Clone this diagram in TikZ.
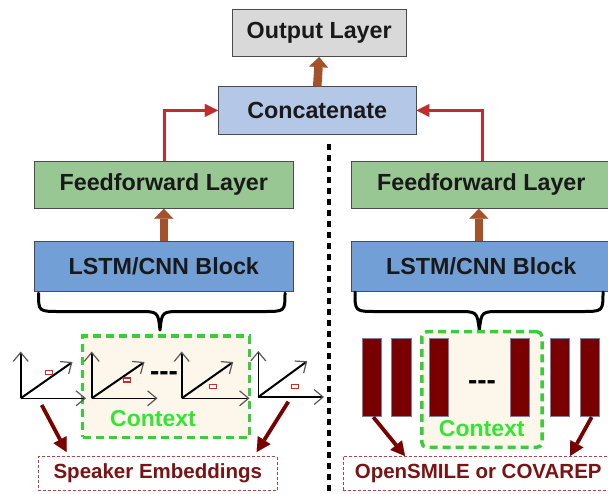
\documentclass[tikz,border=0pt]{standalone}
\usepackage{fontspec}
\setmainfont{Liberation Sans}
\usetikzlibrary{arrows.meta}
\definecolor{outgray}{HTML}{D9D9D9}
\definecolor{concblue}{HTML}{B4C7E7}
\definecolor{ffgreen}{HTML}{98C793}
\definecolor{lstmblue}{HTML}{729FD6}
\definecolor{arrbrown}{HTML}{A5522A}
\definecolor{redline}{HTML}{BE2E2E}
\definecolor{barred}{HTML}{7A0000}
\definecolor{barborder}{HTML}{7F7F9F}
\definecolor{ctxgreen}{HTML}{3CCB3C}
\definecolor{ctxtext}{HTML}{33E633}
\definecolor{cream}{HTML}{FCF7EA}
\definecolor{boxred}{HTML}{A84848}
\definecolor{labred}{HTML}{7A1414}
\definecolor{rectred}{HTML}{C03030}
\tikzset{
  layerbox/.style={draw=black!70, line width=0.8pt, inner sep=0pt,
    minimum width=259pt, minimum height=47.3pt,
    font=\bfseries\fontsize{23.3}{28}\selectfont, text=black!90},
  blockarrow/.style={draw=arrbrown, line width=8.5pt,
    -{Triangle[length=10pt,width=19pt,line width=0.01pt]}},
  redarrow/.style={draw=redline, line width=3pt,
    -{Triangle[length=13pt,width=13pt,line width=0.01pt]}},
  darkarrow/.style={draw=barred, line width=3.8pt,
    -{Triangle[length=14pt,width=15pt,line width=0.01pt]}},
  bracestyle/.style={draw=black, line width=3pt, line cap=round, line join=round},
  ctxbox/.style={draw=ctxgreen, fill=cream, line width=3.5pt, dash pattern=on 8pt off 5pt, inner sep=0pt},
  ctxlabel/.style={text=ctxtext, font=\bfseries\fontsize{23}{28}\selectfont, inner sep=0pt, anchor=base},
  featbar/.style={draw=barborder, fill=barred, line width=0.8pt, minimum width=19.5pt, minimum height=78.4pt, inner sep=0pt},
  srcbox/.style={draw=boxred, line width=1.2pt, dash pattern=on 3pt off 2pt, inner sep=0pt,
    minimum height=34pt, text=labred, font=\bfseries\fontsize{20.5}{24}\selectfont},
  axtip/.tip={Straight Barb[length=9pt,width=15pt,line width=1.2pt,color=black!65]},
  axline/.style={draw=black, line width=1.6pt, -axtip},
  diagline/.style={draw=black, line width=2pt, -axtip},
  minirect/.style={draw=rectred, line width=1.2pt, fill=white},
  dots/.style={font=\bfseries\fontsize{28}{30}\selectfont, inner sep=0pt, anchor=base},
  sep/.style={draw=black, line width=4pt, dash pattern=on 6pt off 5pt}
}
\begin{document}
\begin{tikzpicture}[x=1pt,y=-1pt]
\useasboundingbox (0,0) rectangle (608,493);
\fill[white] (0,0) rectangle (608,493);

% separator
\draw[sep] (329,144) -- (329,493);

% layer boxes
\node[layerbox, fill=outgray, minimum width=173.7pt, minimum height=47.4pt] (out) at (319.2,33) {Output Layer};
\node[layerbox, fill=concblue, minimum width=197.7pt, minimum height=47.3pt] (conc) at (317.2,110.4) {Concatenate};
\node[layerbox, fill=ffgreen] (ffL) at (163.8,184.7) {Feedforward Layer};
\node[layerbox, fill=ffgreen] (ffR) at (481.3,184.7) {Feedforward Layer};
\node[layerbox, fill=lstmblue, minimum height=50.7pt] (lstmL) at (163.8,266.3) {LSTM/CNN Block};
\node[layerbox, fill=lstmblue, minimum height=50.7pt] (lstmR) at (481.3,266.3) {LSTM/CNN Block};

% arrows between layers
\draw[blockarrow] (conc.north) -- (out.south);
\draw[blockarrow] (lstmL.north) -- (ffL.south);
\draw[blockarrow] ([xshift=-2.5pt]lstmR.north) -- ([xshift=-2.5pt]ffR.south);
\draw[redarrow] ([xshift=0.2pt]ffL.north) |- (conc.west);
\draw[redarrow] ([xshift=0.7pt]ffR.north) |- (conc.east);

% braces
\draw[bracestyle] (38.5,293) .. controls (38.5,311.5) .. (60,311.5) -- (138,311.5)
  .. controls (158,311.5) .. (160,330) .. controls (162,311.5) .. (182,311.5)
  -- (263,311.5) .. controls (285,311.5) .. (285,293);
\draw[bracestyle] (355,292) .. controls (355,311.5) .. (377,311.5) -- (457,311.5)
  .. controls (477,311.5) .. (479.3,330) .. controls (481.5,311.5) .. (501,311.5)
  -- (581,311.5) .. controls (603,311.5) .. (603,292);

% left context
\node[ctxbox, minimum width=166.6pt, minimum height=101.3pt] (ctxL) at (166,386.7) {};
\node[ctxlabel] (ctxLlab) at (153,426.5) {Context};

% axis icons
\draw[axline] (20.7,398.3) -- (20.7,351.5);
\draw[axline] (20.7,398.3) -- (86,398.3);
\draw[diagline] (20.7,398.3) -- (72.5,362);
\draw[minirect] (45.8,370.3) rectangle (52.8,374.3);

\draw[axline] (91.7,398.3) -- (91.7,351.5);
\draw[axline] (91.7,398.3) -- (157.5,398.3);
\draw[diagline] (91.7,398.3) -- (144.5,362);
\draw[minirect] (123.2,378) rectangle (130.2,382);

\draw[axline] (181.7,398.3) -- (181.7,351.5);
\draw[axline] (181.7,398.3) -- (249.5,398.3);
\draw[diagline] (181.7,398.3) -- (233.2,362);
\draw[minirect] (209.8,384.7) rectangle (216.8,388.7);

\draw[axline] (258.3,397) -- (258.3,351);
\draw[axline] (258.3,397) -- (324,397);
\draw[diagline] (258.3,397) -- (307.2,361.2);
\draw[minirect] (291.5,384.7) rectangle (298.5,388.7);

\node[dots] (dotsL) at (164,380.8) {-{}-{}-};

% right context
\node[ctxbox, rounded corners=5pt, minimum width=120.3pt, minimum height=115.6pt] (ctxR) at (481.9,389.5) {};
\node[featbar] (bar1) at (372,377.5) {};
\node[featbar] (bar2) at (401.3,377.5) {};
\node[featbar] (bar3) at (438.8,377.5) {};
\node[featbar] (bar4) at (520,377.5) {};
\node[featbar] (bar5) at (560,377.5) {};
\node[featbar] (bar6) at (589.7,377.5) {};
\node[dots] (dotsR) at (482,389.2) {-{}-{}-};
\node[ctxlabel] (ctxRlab) at (481.7,436.5) {Context};

% source boxes
\node[srcbox, minimum width=239pt] (spk) at (157.8,473.7) {Speaker Embeddings};
\node[srcbox, minimum width=270pt] (ose) at (478.2,473.2) {OpenSMILE or COVAREP};

% dark arrows
\coordinate (s1) at (41.7,405);
\coordinate (t1) at (66.7,452);
\coordinate (s2) at (288.3,401.7);
\coordinate (t2) at (256.7,452);
\coordinate (t3) at (405,456);
\coordinate (t4) at (570,456);
\draw[darkarrow] (s1) -- (t1);
\draw[darkarrow] (s2) -- (t2);
\draw[darkarrow] ([xshift=1.3pt]bar1.south) -- (t3);
\draw[darkarrow] ([xshift=2pt]bar6.south) -- (t4);
\end{tikzpicture}
\end{document}
